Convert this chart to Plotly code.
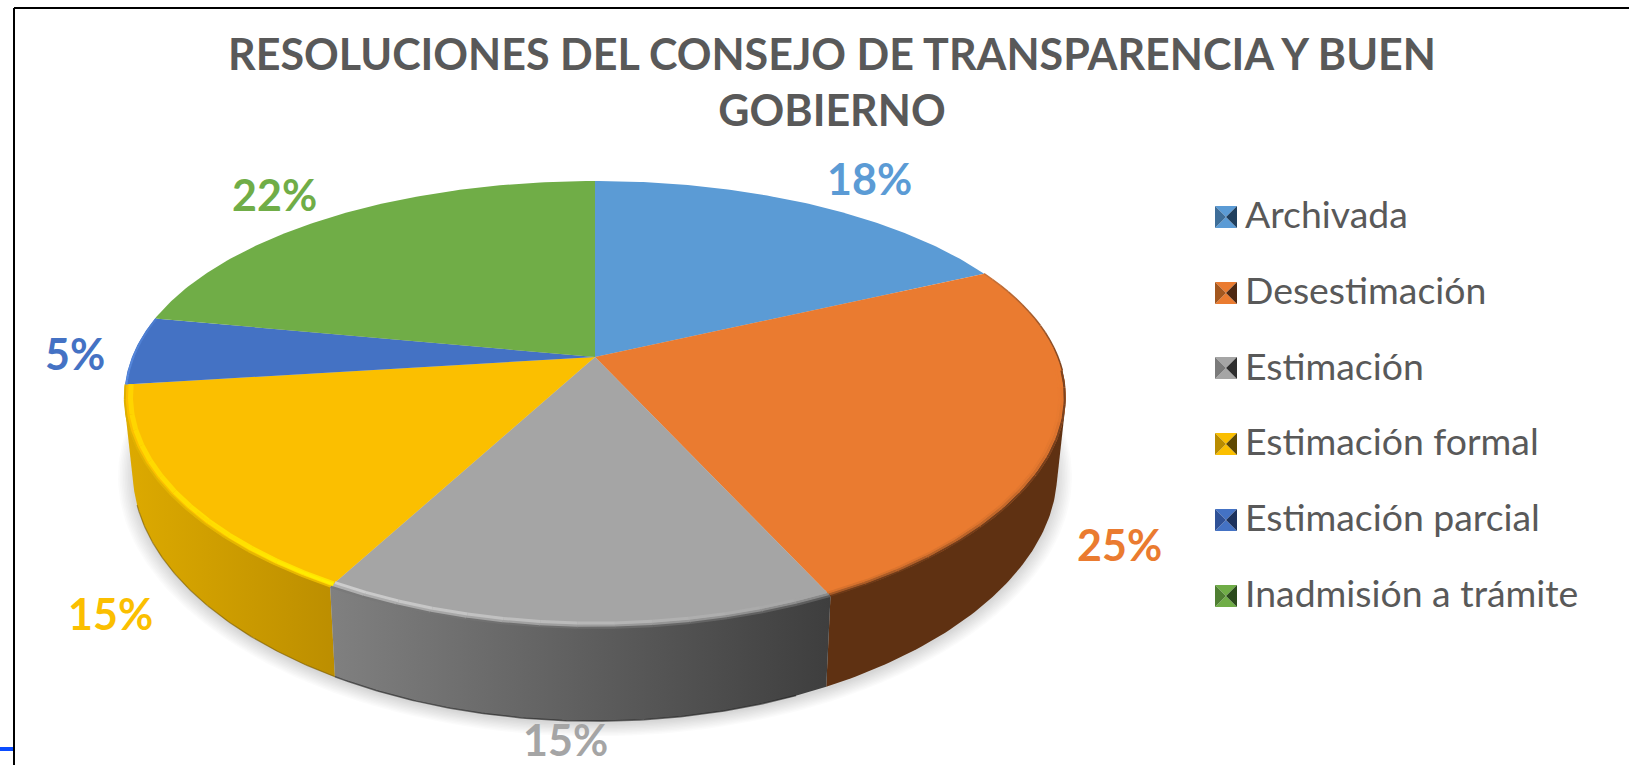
import numpy as np
import plotly.graph_objects as go

TITLE = "RESOLUCIONES DEL CONSEJO DE TRANSPARENCIA Y BUEN<br>GOBIERNO"
categories = ["Archivada", "Desestimación", "Estimación", "Estimación formal", "Estimación parcial", "Inadmisión a trámite"]
values = [18, 25, 15, 15, 5, 22]

# styles
top_colors = ["#5B9BD5", "#EA7B30", "#A5A5A5", "#FBBF00", "#4472C4", "#70AD47"]
wall_left = {1: "#5F3112", 2: "#808080", 3: "#DDAA00"}
wall_right = {1: "#5F3112", 2: "#3E3E3E", 3: "#BC8E00"}
swatch_left = ["#3E6E99", "#A3571F", "#7A7A7A", "#B98C00", "#2F5197", "#4F7F32"]
swatch_right = ["#1F3F5E", "#4D2710", "#2E2E2E", "#5E4800", "#1C315C", "#2B4A1C"]
text_color = "#595959"
label_xy = [(869, 178), (1119, 544), (565, 739), (110, 613), (75, 353), (274, 194)]
swatch_y = [217, 293, 368, 444, 520, 596]
SWATCH_X, SWATCH_R = 1226, 11

# projection of the tilted disc
CX, CY, A, B, KX, KY = 595, 357, 463, 213.4, 0.18, 0.2126
BOTTOM_CY, BOTTOM_SX, BOTTOM_SY = 429, 0.982, 1.078


def project(theta, sx=1.0, sy=1.0, cy=CY):
    u, v = np.sin(theta), np.cos(theta)
    return CX + sx * A * u / (1 + KX * v), cy - sy * B * v / (1 + KY * v)


def arc(p0, p1, sx=1.0, sy=None, cy=CY, n=120):
    return project(2 * np.pi * np.linspace(p0, p1, n), sx, sx if sy is None else sy, cy)


def hull(x, y):
    pts = sorted(set(zip(x.tolist(), y.tolist())))

    def half(points):
        out = []
        for p in points:
            while len(out) > 1 and ((out[-1][0] - out[-2][0]) * (p[1] - out[-2][1])
                                    - (out[-1][1] - out[-2][1]) * (p[0] - out[-2][0])) <= 0:
                out.pop()
            out.append(p)
        return out[:-1]

    ring = half(pts) + half(pts[::-1])
    ring.append(ring[0])
    return [p[0] for p in ring], [p[1] for p in ring]


def mix(c0, c1, t):
    a = [int(c0[i:i + 2], 16) for i in (1, 3, 5)]
    b = [int(c1[i:i + 2], 16) for i in (1, 3, 5)]
    return "#" + "".join(f"{round(p + (q - p) * t):02X}" for p, q in zip(a, b))


frac = np.array(values, dtype=float) / sum(values)
edges = np.concatenate([[0], np.cumsum(frac)])

fig = go.Figure()


def shape(x, y, **kw):
    fig.add_trace(go.Scatter(x=x, y=y, mode="lines", hoverinfo="skip", showlegend=False, **kw))


# soft shadow
for i in range(10):
    xb, yb = arc(0, 1, BOTTOM_SX + 0.0035 * i, BOTTOM_SY + 0.005 * i, BOTTOM_CY + 3, n=240)
    shape(xb, yb, fill="toself", fillcolor="rgba(0,0,0,0.016)", line=dict(width=0))

# side walls (only the front slices show one)
for i in (3, 1, 2):
    p0, p1 = edges[i], edges[i + 1]
    xt, yt = arc(p0, p1)
    xb, yb = arc(p0, p1, BOTTOM_SX, BOTTOM_SY, BOTTOM_CY)
    hx, hy = hull(np.concatenate([xt, xb]), np.concatenate([yt, yb]))
    shape(hx, hy, fill="toself", line=dict(width=0),
          fillgradient=dict(type="horizontal", colorscale=[[0, wall_left[i]], [1, wall_right[i]]]))
# darker lower edge of the wall
xe, ye = arc(edges[2] + 0.01, edges[3], BOTTOM_SX, BOTTOM_SY, BOTTOM_CY)
shape(xe, ye, line=dict(color="rgba(30,30,30,0.6)", width=1.5))
xe, ye = arc(edges[3], edges[4] - 0.03, BOTTOM_SX, BOTTOM_SY, BOTTOM_CY)
shape(xe, ye, line=dict(color="rgba(120,90,0,0.6)", width=1.2))

# top faces
for i, name in enumerate(categories):
    xa, ya = arc(edges[i], edges[i + 1])
    fig.add_trace(go.Scatter(
        x=np.concatenate([[CX], xa, [CX]]), y=np.concatenate([[CY], ya, [CY]]),
        mode="lines", fill="toself", fillcolor=top_colors[i], line=dict(width=0),
        name=name, legendgroup=name, showlegend=False, hoveron="fills",
        text=f"{name}: {values[i]}%", hoverinfo="text"))

# bevel along the rim: (start, end, scale, colour at start, colour at end, width)
OR, GR, YE = top_colors[1], top_colors[2], top_colors[3]
rims = [
    (edges[1], 0.26, 1.0, "#C9733A", "#7E4420", 1.5),
    (0.26, edges[2], 0.998, "#7E4420", "#6E3A18", 2.2),
    (0.26, edges[2], 0.992, OR, "#A85A26", 2.5),
    (0.26, edges[2], 0.986, OR, "#D8722D", 2),
    (edges[2], edges[3], 0.998, "#5E5E5E", "#7A7A7A", 3),
    (edges[2], edges[3], 0.991, "#8A8A8A", "#B0B0B0", 2.5),
    (edges[2], edges[3], 0.982, GR, "#CDCDCD", 3),
    (edges[3], edges[4], 0.999, "#E8B800", "#DDAF00", 2),
    (edges[3], edges[4], 0.987, "#FFE400", "#FFD400", 5),
    (edges[3], edges[3] + 0.06, 0.988, "#FFF000", "#FFD800", 2.5),
    (edges[4], edges[5], 0.997, "#5A8BE0", "#4C7DD0", 2),
]
for p0, p1, s, c0, c1, w in rims:
    n = 14
    grid = np.linspace(p0, p1, n + 1)
    for k in range(n):
        xr, yr = arc(grid[k], grid[k + 1], s, n=12)
        shape(xr, yr, line=dict(color=mix(c0, c1, k / (n - 1)), width=w))

# legend swatches: four bevel faces each
for i, yc in enumerate(swatch_y):
    L, R, T, Bt = SWATCH_X - SWATCH_R, SWATCH_X + SWATCH_R, yc - SWATCH_R, yc + SWATCH_R
    faces = [
        ([L, R, SWATCH_X], [T, T, yc], top_colors[i]),
        ([L, R, SWATCH_X], [Bt, Bt, yc], top_colors[i]),
        ([L, L, SWATCH_X], [T, Bt, yc], swatch_left[i]),
        ([R, R, SWATCH_X], [T, Bt, yc], swatch_right[i]),
    ]
    for fx, fy, col in faces:
        shape(fx, fy, fill="toself", fillcolor=col, line=dict(width=0))

# native legend entries carry the text
for i, name in enumerate(categories):
    fig.add_trace(go.Scatter(
        x=[None], y=[None], mode="markers", name=name, legendgroup=name,
        marker=dict(symbol="square", size=16, color="rgba(0,0,0,0)")))

# percent labels
annotations = [
    dict(x=px, y=py, xref="x", yref="y", text=f"{v}%", showarrow=False,
         font=dict(family="Lato", size=43, color=c, weight="bold"), xanchor="center", yanchor="middle")
    for v, c, (px, py) in zip(values, top_colors, label_xy)
]

fig.update_layout(
    width=1629, height=765, autosize=False,
    margin=dict(l=0, r=0, t=0, b=0),
    paper_bgcolor="white", plot_bgcolor="white",
    title=dict(text=TITLE, x=832 / 1629, xanchor="center", y=1 - 70 / 765, yanchor="top",
               font=dict(family="Lato", size=43, color=text_color, weight="bold")),
    xaxis=dict(range=[0, 1629], visible=False, fixedrange=True),
    yaxis=dict(range=[765, 0], visible=False, fixedrange=True),
    legend=dict(x=1205 / 1629, y=1 - 183 / 765, xanchor="left", yanchor="top",
                tracegroupgap=24, itemwidth=30, bgcolor="rgba(0,0,0,0)",
                font=dict(family="Lato", size=37.4, color=text_color)),
    annotations=annotations,
    shapes=[
        dict(type="line", xref="x", yref="y", x0=14, x1=14, y0=8, y1=765, line=dict(color="black", width=2)),
        dict(type="line", xref="x", yref="y", x0=14, x1=1629, y0=8, y1=8, line=dict(color="black", width=2)),
        dict(type="line", xref="x", yref="y", x0=0, x1=13, y0=749, y1=749, line=dict(color="#0B4CFF", width=4)),
    ],
)
fig.write_html("out.html", config={"displayModeBar": False},
               post_script="document.body.style.margin='0';document.documentElement.style.overflow='hidden';")
